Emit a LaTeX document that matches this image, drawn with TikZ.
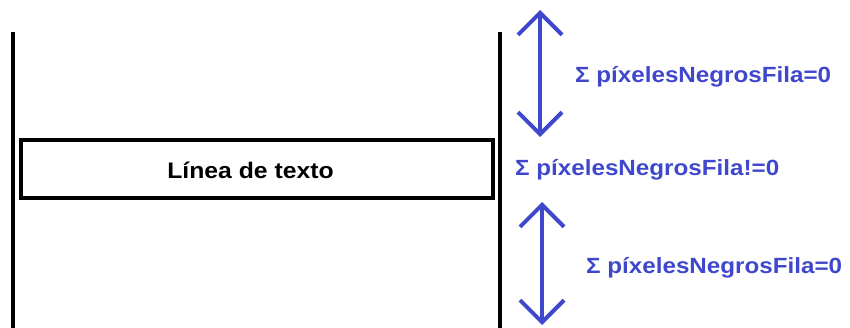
\documentclass[tikz,border=0pt]{standalone}
\usepackage{fontspec}
\setmainfont{Liberation Sans}
\newfontfamily\stretchedfont[FakeStretch=1.1]{Liberation Sans}
\usetikzlibrary{arrows.meta}
\definecolor{pblue}{HTML}{3F48CC}
\begin{document}
\begin{tikzpicture}[x=1pt,y=-1pt,
  wall/.style={line width=4pt,black},
  darr/.style={line width=4pt,pblue,{Straight Barb[length=22pt,width=44pt,line width=4pt]}-{Straight Barb[length=22pt,width=44pt,line width=4pt]}},
  lbl/.style={text=pblue,font=\stretchedfont\bfseries\fontsize{22}{26}\selectfont,inner sep=0pt,anchor=west}]
\useasboundingbox (0,0) rectangle (850,327);
\coordinate (l1) at (13,32); \coordinate (l2) at (13,330);
\coordinate (r1) at (500,32); \coordinate (r2) at (500,330);
\draw[wall] (l1) -- (l2);
\draw[wall] (r1) -- (r2);
\node[draw,line width=4pt,minimum width=472pt,minimum height=58pt,inner sep=0pt] (box) at (256.5,169) {};
\node[inner sep=0pt,font=\stretchedfont\bfseries\fontsize{22.5}{26}\selectfont] (boxtext) at (250.5,170) {Línea de texto};
\coordinate (a1) at (540,10); \coordinate (a2) at (540,137);
\coordinate (b1) at (542,202); \coordinate (b2) at (542,325);
\draw[darr] (a1) -- (a2);
\draw[darr] (b1) -- (b2);
\node[lbl] (t1) at (575,77) {Σ píxelesNegrosFila=0};
\node[lbl] (t2) at (515,170) {Σ píxelesNegrosFila!=0};
\node[lbl] (t3) at (586,268) {Σ píxelesNegrosFila=0};
\end{tikzpicture}
\end{document}
